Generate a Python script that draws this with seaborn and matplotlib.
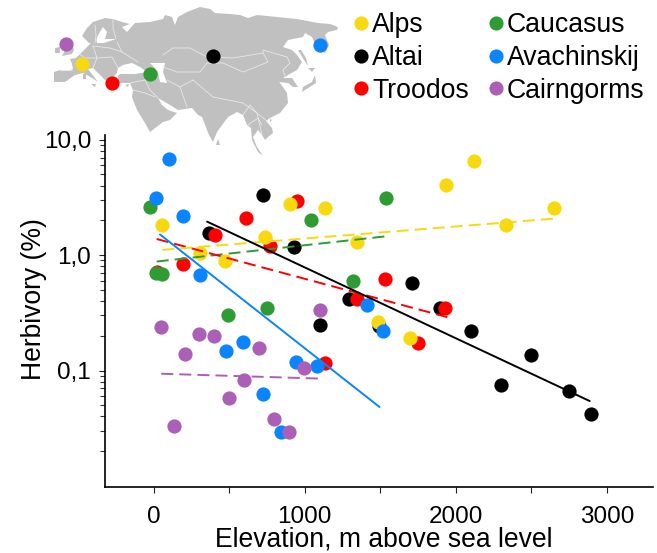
import matplotlib
matplotlib.use("Agg")
import matplotlib.pyplot as plt
from matplotlib.ticker import FixedLocator, NullFormatter, FixedFormatter
from matplotlib.lines import Line2D
import seaborn as sns

sns.set_style("ticks")
plt.rcParams['font.family'] = ['Liberation Sans', 'DejaVu Sans']
plt.rcParams.update({"text.color": "black", "axes.labelcolor": "black", "xtick.labelcolor": "black",
                     "ytick.labelcolor": "black", "axes.edgecolor": "black"})

# ---- data -----
alps_x = [57, 310, 473, 740, 900, 1131, 1349, 2118, 1935, 2329, 2649, 1483, 1695]
alps_y = [1.83, 1.05, 0.89, 1.44, 2.78, 2.58, 1.30, 6.55, 4.06, 1.84, 2.57, 0.265, 0.192]
altai_x = [365, 722, 931, 1098, 1292, 1708, 1898, 2100, 1490, 2499, 2301, 2748, 2897]
altai_y = [1.54, 3.33, 1.17, 0.25, 0.418, 0.575, 0.348, 0.221, 0.244, 0.135, 0.0754, 0.0659, 0.0423]
troodos_x = [407, 610, 196, 951, 770, 24, 1534, 1349, 1931, 1748, 1131]
troodos_y = [1.48, 2.10, 0.836, 2.93, 1.19, 0.721, 0.624, 0.418, 0.35, 0.172, 0.116]
caucasus_x = [-26, 15, 57, 489, 748, 1039, 1539, 1318]
caucasus_y = [2.60, 0.70, 0.685, 0.304, 0.348, 2.03, 3.12, 0.599]
avachinskij_x = [103, 17, 196, 310, 592, 480, 942, 1081, 724, 841, 1409, 1519]
avachinskij_y = [6.82, 3.15, 2.18, 0.679, 0.176, 0.148, 0.118, 0.110, 0.063, 0.0291, 0.371, 0.22]
cairngorms_x = [48, 299, 398, 697, 1098, 209, 598, 497, 134, 799, 898, 997]
cairngorms_y = [0.239, 0.208, 0.201, 0.158, 0.334, 0.14, 0.082, 0.0573, 0.0328, 0.0377, 0.0295, 0.105]

fit_alps = ([57, 2649], [1.11, 2.07])
fit_altai = ([354, 2886], [1.95, 0.0544])
fit_troodos = ([20, 1944], [1.38, 0.29])
fit_caucasus = ([20, 1547], [0.88, 1.46])
fit_avachinskij = ([42, 1495], [1.51, 0.0483])
fit_cairngorms = ([50, 1116], [0.0938, 0.085])

colors = {"Alps": "#F8D90F", "Altai": "#000000", "Troodos": "#FF0000",
          "Caucasus": "#2F9B33", "Avachinskij": "#0A84FF", "Cairngorms": "#AC5FB6"}
legend_order = ["Alps", "Altai", "Troodos", "Caucasus", "Avachinskij", "Cairngorms"]

series = [("Altai", altai_x, altai_y), ("Troodos", troodos_x, troodos_y),
          ("Caucasus", caucasus_x, caucasus_y), ("Alps", alps_x, alps_y),
          ("Avachinskij", avachinskij_x, avachinskij_y), ("Cairngorms", cairngorms_x, cairngorms_y)]
fits = [("Caucasus", fit_caucasus, True), ("Troodos", fit_troodos, True),
        ("Alps", fit_alps, True), ("Cairngorms", fit_cairngorms, True),
        ("Altai", fit_altai, False), ("Avachinskij", fit_avachinskij, False)]

# map outlines, in map units
map_main = [(54,82),(54,72),(60,70),(68,71),(73,69),(72,64),(70,59),(76,58),(80,54),(86,48),(90,44),(93,40),
 (93,37),(96,38),(97,43),(104,43),(110,41),(116,39),(105,39),(107,32),(103,27),(98,35),(95,43),(89,43),
 (82,36),(87,28),(93,22),(105,18),(113,19),(122,22),(130,24),(122,27),(127,32),(135,23),(150,22),(163,19),
 (165,15),(172,17),(175,25),(178,17),(187,12),(200,7),(210,9),(215,13),(230,14),(240,15),(248,18),(257,15),
 (277,17),(297,19),(318,23),(330,24),(338,27),(337,30),(328,32),(325,35),(329,45),(325,53),(318,50),(314,42),
 (312,37),(305,33),(303,37),(288,40),(283,47),(292,50),(297,55),(302,62),(297,70),(288,75),(283,78),(292,78),
 (298,87),(293,87),(288,83),(278,82),(275,78),(280,76),(277,80),(280,83),(285,90),(287,93),(288,103),(280,113),
 (270,118),(266,121),(272,128),(273,133),(268,137),(265,140),(262,135),(258,130),(253,137),(257,147),(263,156),
 (258,152),(252,140),(251,128),(247,125),(243,115),(237,112),(228,117),(217,132),(213,142),(209,135),(202,117),
 (198,115),(192,108),(178,110),(170,105),(158,98),(162,105),(168,110),(177,113),(170,120),(163,122),(150,132),
 (145,123),(137,110),(132,97),(133,90),(132,88),(130,83),(118,83),(118,76),(120,74),(135,74),(147,72),(140,67),
 (132,63),(123,65),(118,68),(117,73),(108,82),(105,80),(93,68),(88,69),(98,82),(92,78),(83,73),(75,75),(65,82)]
map_caspian = [(150,63),(165,63),(163,72),(167,83),(160,82),(158,72),(155,68)]
map_islands = [
 [(62,40),(70,38),(74,50),(72,54),(62,56),(66,48)],
 [(55,48),(60,47),(60,53),(55,53)],
 [(91,84),(96,84),(95,87)],
 [(83,74),(86,74),(86,79),(83,79)],
 [(109,86),(114,86),(112,87)],
 [(125,85),(129,84),(128,87)],
 [(315,75),(316,83),(305,90),(302,92),(303,87),(312,82)],
 [(308,68),(315,68),(312,72)],
 [(298,50),(301,50),(306,58),(308,66),(304,60)],
 [(218,139),(220,145),(216,145)],
 [(270,119),(272,120),(270,122)],
]
map_borders = [
 [(163,55),(173,48),(190,48),(207,57),(233,58),(263,53),(268,62),(243,72),(223,63),(213,63)],
 [(263,53),(263,50),(287,57),(290,63),(283,70),(285,76)],
 [(163,67),(177,72),(200,72),(207,63),(213,63)],
 [(167,80),(180,87),(193,80)],
 [(180,87),(187,107)],
 [(133,90),(145,93),(155,97)],
 [(145,80),(150,90),(158,98)],
 [(193,80),(213,97),(243,103),(257,113),(262,135)],
 [(117,42),(122,52),(138,62)],
 [(116,39),(113,28),(113,19)],
 [(95,25),(96,35),(95,43)],
 [(93,46),(97,58),(93,68)],
 [(93,46),(110,48),(122,52)],
 [(97,58),(112,57),(118,68)],
 [(78,53),(85,58),(97,58)],
 [(60,70),(72,70)],
 [(130,83),(145,80),(155,72)],
 [(243,115),(250,105),(257,113),(268,122)],
 [(248,125),(258,118),(262,125)],
]
map_sites_x = {"Cairngorms": 66, "Alps": 82, "Troodos": 112, "Caucasus": 150, "Altai": 213, "Avachinskij": 320}
map_sites_y = {"Cairngorms": 44, "Alps": 64, "Troodos": 83, "Caucasus": 74, "Altai": 56, "Avachinskij": 45}

W, H = 657, 553
fig = plt.figure(figsize=(W / 100, H / 100), dpi=100)

# map layer
mp = fig.add_axes([0, 0, 1, 1], zorder=0)
mp.set_xlim(0, W); mp.set_ylim(H, 0); mp.axis("off")
land = "#C0C0C0"
mp.fill(*zip(*map_main), color=land, lw=0)
for isl in map_islands:
    mp.fill(*zip(*isl), color=land, lw=0)
mp.fill(*zip(*map_caspian), color="white", lw=0)
for b in map_borders:
    mp.plot(*zip(*b), color="#E8E8E8", lw=0.6)
for name in map_sites_x:
    mp.scatter(map_sites_x[name], map_sites_y[name], s=105, color=colors[name], lw=0, zorder=5)

# main axes
L, R, T, B = 105, 652.7, 134.7, 486.7
ax = fig.add_axes([L / W, 1 - B / H, (R - L) / W, (B - T) / H], zorder=1)
ax.patch.set_visible(False)
for name, xs, ys in series:
    sns.scatterplot(x=xs, y=ys, color=colors[name], s=105, linewidth=0, ax=ax, zorder=2, clip_on=False)
for name, (fx, fy), dashed in fits:
    ax.plot(fx, fy, color=colors[name], lw=1.4, zorder=3,
            linestyle=(0, (6.2, 3.1)) if dashed else "-")

ax.set_yscale("log")
ax.set_xlim(-322, 3303)
ax.set_ylim(0.00985, 11.05)
sns.despine(ax=ax)
for s in ("left", "bottom"):
    ax.spines[s].set_linewidth(1.2)
    ax.spines[s].set_color("black")

ax.xaxis.set_major_locator(FixedLocator([0, 1000, 2000, 3000]))
ax.xaxis.set_minor_locator(FixedLocator([500, 1500, 2500]))
ax.yaxis.set_major_locator(FixedLocator([0.1, 1, 10]))
ax.yaxis.set_major_formatter(FixedFormatter(["0,1", "1,0", "10,0"]))
ax.yaxis.set_minor_locator(FixedLocator([m * d for d in (0.01, 0.1, 1) for m in range(2, 10)]))
ax.yaxis.set_minor_formatter(NullFormatter())
ax.tick_params(axis="y", which="major", length=4, width=0.8, labelsize=17.5, pad=6, color="#222222", labelcolor="black")
ax.tick_params(axis="y", which="minor", length=3.5, width=0.8, color="#333333")
ax.tick_params(axis="x", which="both", length=4, width=0.8, labelsize=17.5, pad=10, color="#222222", labelcolor="black")
ax.set_xlabel("Elevation, m above sea level", fontsize=19.1, color="black")
ax.set_ylabel("Herbivory (%)", fontsize=19.1, color="black")
ax.xaxis.set_label_coords(0.509, -0.113)
ax.yaxis.set_label_coords(-0.105, 0.533)

handles = [Line2D([], [], marker="o", linestyle="", markersize=10.2, markeredgewidth=0,
                  color=colors[n], label=n) for n in legend_order]
fig.legend(handles=handles, ncol=2, loc="upper left", bbox_to_anchor=(348 / W, 1 - 12.5 / H),
           frameon=False, fontsize=19.2, handletextpad=-0.1, columnspacing=0.52,
           labelspacing=0.25, borderpad=0, borderaxespad=0, handlelength=1.0, labelcolor="black")

fig.savefig("out.png", dpi=100)
